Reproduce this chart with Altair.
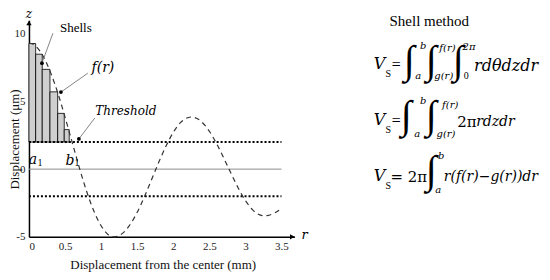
import altair as alt
import pandas as pd

# ---- data ----
curve_r = [0, 0.05, 0.1, 0.15, 0.2, 0.25, 0.3, 0.35, 0.4, 0.45, 0.5, 0.55, 0.6, 0.65, 0.7,
           0.8, 0.9, 1.0, 1.1, 1.18, 1.25, 1.3, 1.4, 1.5, 1.6, 1.7, 1.8, 1.9, 2.0, 2.1,
           2.2, 2.25, 2.3, 2.4, 2.5, 2.6, 2.7, 2.8, 2.9, 3.0, 3.1, 3.2, 3.26, 3.3, 3.4, 3.5]
curve_z = [9.3, 9.24, 9.05, 8.74, 8.31, 7.77, 7.13, 6.41, 5.62, 4.76, 3.84, 2.91, 1.96, 1.01, 0.08,
           -1.65, -3.1, -4.18, -4.84, -5.0, -4.91, -4.73, -4.11, -3.19, -2.04, -0.77, 0.52, 1.71, 2.71, 3.43,
           3.8, 3.85, 3.81, 3.46, 2.8, 1.89, 0.82, -0.31, -1.39, -2.32, -3.01, -3.38, -3.45, -3.43, -3.25, -2.9]

shell_left = [0, 0.093, 0.184, 0.291, 0.398, 0.489]
shell_right = [0.093, 0.184, 0.291, 0.398, 0.489, 0.558]
shell_top = [9.28, 8.49, 7.37, 5.71, 4.12, 2.92]
threshold = 2.0
x_ticks = [0, 0.5, 1, 1.5, 2, 2.5, 3, 3.5]
y_ticks = [-5, 0, 5, 10]
r_max = 3.5
x_axis_end = 3.68
y_axis_end = 11

# annotation callouts (start r, start z, end r, end z)
arrow_r1 = [0.332, 0.816, 0.913]
arrow_z1 = [10.04, 7.09, 3.78]
arrow_r2 = [0.18, 0.443, 0.692]
arrow_z2 = [7.83, 5.69, 2.23]

# ---- frames ----
curve_df = pd.DataFrame({"r": curve_r, "z": curve_z})
shell_df = pd.DataFrame({"r": shell_left, "r1": shell_right, "z2": shell_top,
                         "z": [threshold] * len(shell_left)})
thr_df = pd.DataFrame({"r": [0, 0], "r1": [r_max, r_max], "z": [threshold, -threshold]})
zero_df = pd.DataFrame({"r": [0], "r1": [r_max], "z": [0]})
arrow_df = pd.DataFrame({"r": arrow_r1, "z": arrow_z1, "r1": arrow_r2, "z2": arrow_z2})
head_df = pd.DataFrame({"r": arrow_r2, "z": arrow_z2})
axis_arrow_df = pd.DataFrame({"r": [0, x_axis_end - 0.03], "z": [y_axis_end - 0.2, -5],
                              "shape": ["triangle-up", "triangle-right"]})

xs = alt.Scale(domain=[0, x_axis_end], nice=False, zero=False)
ys = alt.Scale(domain=[-5, y_axis_end], nice=False, zero=False)

XAX = alt.Axis(values=x_ticks, labelExpr="'' + datum.value", ticks=False, labelPadding=4,
               title="Displacement from the center (mm)", titleX=134, titleY=28,
               titleAlign="center", titleBaseline="middle")
YAX = alt.Axis(values=y_ticks, labelExpr="'' + datum.value", ticks=False, labelPadding=4,
               title="Displacement (\u03bcm)", titleX=-14, titleY=119,
               titleAlign="center", titleBaseline="middle")

def X():
    return alt.X("r:Q", scale=xs, axis=XAX, title="Displacement from the center (mm)")

def Y():
    return alt.Y("z:Q", scale=ys, axis=YAX, title="Displacement (\u03bcm)")

shells = alt.Chart(shell_df).mark_rect(fill="#cfcfcf", stroke="black", strokeWidth=0.8).encode(
    x=X(), x2="r1", y=Y(), y2="z2")

zero = alt.Chart(zero_df).mark_rule(color="#8c8c8c", strokeWidth=1).encode(
    x=X(), x2="r1", y=Y())

thr = alt.Chart(thr_df).mark_rule(color="black", strokeWidth=2, strokeDash=[2, 2]).encode(
    x=X(), x2="r1", y=Y())

curve = alt.Chart(curve_df).mark_line(
    color="#333333", strokeWidth=1.2, strokeDash=[5, 4], interpolate="monotone"
).encode(x=X(), y=Y())

arrows = alt.Chart(arrow_df).mark_rule(color="#777777", strokeWidth=0.9).encode(
    x=X(), x2="r1", y=Y(), y2="z2")
heads = alt.Chart(head_df).mark_point(filled=True, color="black", size=14, opacity=1).encode(
    x=X(), y=Y())

axis_arrows = alt.Chart(axis_arrow_df).mark_point(filled=True, color="black", size=28, opacity=1).encode(
    x=X(), y=Y(), shape=alt.Shape("shape:N", scale=None))

def text_layer(rows, font, style, align="center"):
    df = pd.DataFrame(rows, columns=["t", "r", "z", "s"])
    return alt.Chart(df).mark_text(font=font, fontStyle=style, align=align,
                                   baseline="middle", color="black").encode(
        x=X(), y=Y(), text="t:N", size=alt.Size("s:Q", scale=None))

SERIF = "Liberation Serif"
MATH = "DejaVu Serif"

plain_center = text_layer([
    ["Shells", 0.65, 10.41, 13],
    ["Shell method", 5.548, 10.93, 15],
    ["S", 4.98, 7.0, 10], ["=", 5.09, 7.684, 16],
    ["S", 4.98, 2.87, 10], ["=", 5.09, 3.554, 16],
    ["S", 4.98, -1.26, 10],
    ["0", 6.06, 6.873, 10],
    ["1", 0.152, 0.46, 10], ["1", 0.665, 0.42, 10],
], SERIF, "normal")

ints = text_layer([
    ["\u222b", 5.271, 8.0, 40], ["\u222b", 5.576, 8.0, 40], ["\u222b", 5.95, 8.0, 40],
    ["\u222b", 5.230, 3.9, 40], ["\u222b", 5.576, 3.9, 40],
    ["\u222b", 5.576, -0.15, 40],
], SERIF, "normal")

italic_center = text_layer([
    ["f(r)", 1.025, 7.45, 14],
    ["Threshold", 1.343, 4.29, 12],
    ["a", 0.055, 0.68, 14], ["b", 0.567, 0.6, 14],
    ["z", 0.0, 11.44, 12], ["r", 3.82, -4.85, 13],
    ["V", 4.860, 7.757, 16], ["V", 4.860, 3.628, 16], ["V", 4.860, -0.501, 16],
    ["b", 5.464, 9.084, 10], ["a", 5.395, 6.873, 10],
    ["f(r)", 5.80, 8.936, 10], ["g(r)", 5.75, 6.873, 10],
    ["2\u03c0", 6.10, 9.010, 10],
    ["b", 5.464, 5.029, 10], ["a", 5.382, 2.596, 10],
    ["f(r)", 5.838, 4.734, 10], ["g(r)", 5.78, 2.596, 10],
    ["b", 5.714, 0.973, 10], ["a", 5.672, -1.534, 10],
], MATH, "italic")

italic_left = text_layer([
    ["rd\u03b8dzdr", 6.17, 7.611, 16],
    ["rdzdr", 6.198, 3.480, 14],
    ["r(f(r)\u2212g(r))dr", 5.75, -0.575, 14],
], MATH, "italic", align="left")

plain_left = text_layer([
    ["2\u03c0", 5.935, 3.480, 15],
    ["= 2\u03c0", 5.01, -0.575, 15],
], MATH, "normal", align="left")

chart = alt.layer(
    shells, zero, thr, curve, arrows, heads, axis_arrows,
    plain_center, ints, italic_center, italic_left, plain_left
).properties(
    width=266, height=217,
    autosize=alt.AutoSizeParams(type="none"),
    padding={"left": 21, "top": 12, "right": 248, "bottom": 35},
).configure_view(stroke=None).configure_axis(
    domainColor="black", domainWidth=1.5, grid=False,
    labelFont=SERIF, labelFontSize=11, labelColor="#222222",
    titleFont=SERIF, titleFontSize=13, titleFontWeight="normal", titleColor="#111111",
)

chart.save("out.html", embed_options={"renderer": "svg", "actions": False})
